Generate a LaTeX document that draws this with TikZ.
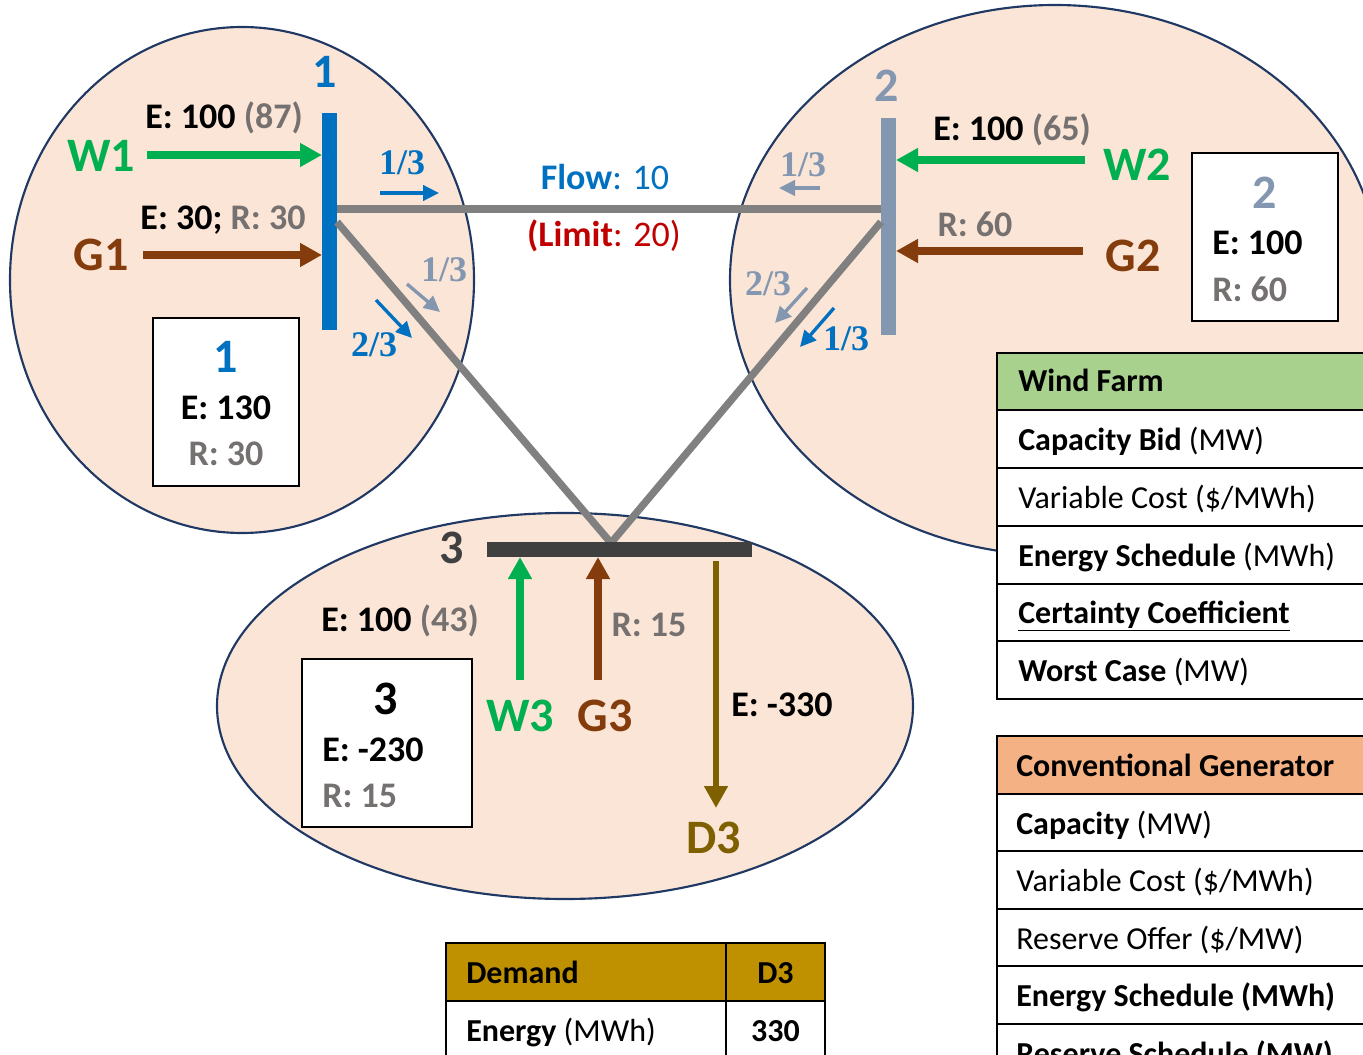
\documentclass[tikz,border=0pt]{standalone}
\usepackage{fontspec}
\setmainfont{Carlito}
\newfontfamily\fracfont{Liberation Serif}
\usetikzlibrary{arrows.meta}
\definecolor{ellfill}{HTML}{FBE5D6}
\definecolor{ellline}{HTML}{203864}
\definecolor{busblue}{HTML}{0070C0}
\definecolor{busgray}{HTML}{8497B0}
\definecolor{busdark}{HTML}{404040}
\definecolor{linegray}{HTML}{808080}
\definecolor{wgreen}{HTML}{00B050}
\definecolor{gbrown}{HTML}{843C0C}
\definecolor{dgold}{HTML}{7F6000}
\definecolor{txtgray}{HTML}{767171}
\definecolor{limred}{HTML}{C00000}
\definecolor{hdgreen}{HTML}{A9D18E}
\definecolor{hdorange}{HTML}{F4B183}
\definecolor{hdgold}{HTML}{BF9000}
\newcommand\fsBig{\fontsize{36}{40}\selectfont}
\newcommand\fsMid{\fontsize{27}{31}\selectfont}
\newcommand\fsTab{\fontsize{24}{27}\selectfont}
\newcommand\fsFrac{\fontsize{27}{30}\selectfont}
\tikzset{
 ell/.style={fill=ellfill, draw=ellline, line width=1.6pt},
 tline/.style={draw=linegray, line width=5.5pt},
 busbar/.style={draw=none, inner sep=0pt, outer sep=0pt},
 bigarrow/.style={line width=6pt, -{Triangle[length=16.5pt,width=17pt]}},
 darrow/.style={line width=4.5pt, -{Triangle[length=16.5pt,width=17pt]}},
 smallarrow/.style={line width=2.5pt, -{Triangle[length=12pt,width=11.5pt]}},
 lbl/.style={inner sep=0pt, font=\fsMid\bfseries},
 biglbl/.style={inner sep=0pt, font=\fsBig\bfseries},
 fraclbl/.style={inner sep=0pt, font=\fsFrac\fracfont\bfseries},
 infobox/.style={draw=black, fill=white, line width=1.6pt},
 tabrow/.style={draw=black, line width=2pt},
 tabtxt/.style={inner sep=0pt, anchor=base west, font=\fsTab},
}
\begin{document}
\begin{tikzpicture}[x=0.75pt,y=-0.75pt]
\useasboundingbox (0,0) rectangle (1363,1055);
\clip (0,0) rectangle (1363,1055);
% zones
\draw[ell] (242,280) ellipse [x radius=174pt, y radius=189.75pt];
\draw[ell] (1055,280) ellipse [x radius=243.75pt, y radius=206.25pt];
\draw[ell] (565,706) ellipse [x radius=261pt, y radius=144.75pt];
% buses
\node[busbar, fill=busblue, minimum width=11.25pt, minimum height=162.75pt] (bus1) at (329.5,221.5) {};
\node[busbar, fill=busgray, minimum width=11.25pt, minimum height=162.75pt] (bus2) at (888.5,226.5) {};
% lines
\coordinate (l12a) at (337,209);
\coordinate (l12b) at (881,209);
\coordinate (l13a) at (337,222);
\coordinate (l23a) at (881,222);
\coordinate (b3top) at (611,543);
\draw[tline] (l12a) -- (l12b);
\draw[tline] (l13a) -- (b3top);
\draw[tline] (l23a) -- (b3top);
\node[busbar, fill=busdark, minimum width=198.75pt, minimum height=11.25pt] (bus3) at (619.5,549.5) {};
% bus labels
\node[biglbl, text=busblue] (n1) at (325,72) {1};
\node[biglbl, text=busgray] (n2) at (887,86) {2};
\node[biglbl, text=busdark] (n3) at (452,548) {3};
% zone 1 units
\coordinate (w1s) at (147,155);
\coordinate (g1s) at (143,255);
\draw[bigarrow, wgreen] (w1s) -- (bus1.west |- w1s);
\draw[bigarrow, gbrown] (g1s) -- (bus1.west |- g1s);
\node[biglbl, text=wgreen] (w1) at (101,156) {W1};
\node[biglbl, text=gbrown] (g1) at (101,255) {G1};
\node[lbl] (w1e) at (224,118) {E: 100 \textcolor{txtgray}{(87)}};
\node[lbl] (g1e) at (223,220) {E: 30; \textcolor{txtgray}{R: 30}};
\draw[infobox] (153,318) rectangle (299,486);
\node[biglbl, text=busblue] (b1n) at (226,357) {1};
\node[lbl] (b1e) at (226,408) {E: 130};
\node[lbl, text=txtgray] (b1r) at (226,454) {R: 30};
% zone 1 flow shares
\node[fraclbl, text=busblue] (f1a) at (402,163) {1/3};
\coordinate (f1as) at (380,193); \coordinate (f1ae) at (439,193);
\draw[smallarrow, busblue] (f1as) -- (f1ae);
\node[fraclbl, text=busgray] (f1b) at (444,270) {1/3};
\coordinate (f1bs) at (407,284); \coordinate (f1be) at (440,312);
\draw[smallarrow, busgray] (f1bs) -- (f1be);
\node[fraclbl, text=busblue] (f1c) at (374,345) {2/3};
\coordinate (f1cs) at (376,300); \coordinate (f1ce) at (412,338);
\draw[smallarrow, busblue] (f1cs) -- (f1ce);
% line flow label
\node[inner sep=0pt, font=\fsMid, text=busblue] (flow) at (605,177) {\textbf{Flow}: 10};
\node[inner sep=0pt, font=\fsMid, text=limred] (limit) at (604,236) {\textbf{(Limit}: 20)};
% zone 2 flow shares
\node[fraclbl, text=busgray] (f2a) at (803,165) {1/3};
\coordinate (f2as) at (820,188); \coordinate (f2ae) at (779,188);
\draw[smallarrow, busgray] (f2as) -- (f2ae);
\node[fraclbl, text=busgray] (f2b) at (768,284) {2/3};
\coordinate (f2bs) at (807,288); \coordinate (f2be) at (775,323);
\draw[smallarrow, busgray] (f2bs) -- (f2be);
\node[fraclbl, text=busblue] (f2c) at (846,339) {1/3};
\coordinate (f2cs) at (834,308); \coordinate (f2ce) at (800,347);
\draw[smallarrow, busblue] (f2cs) -- (f2ce);
% zone 2 units
\coordinate (w2s) at (1085,160);
\coordinate (g2s) at (1083,251);
\draw[bigarrow, wgreen] (w2s) -- (bus2.east |- w2s);
\draw[bigarrow, gbrown] (g2s) -- (bus2.east |- g2s);
\node[biglbl, text=wgreen] (w2) at (1137,165) {W2};
\node[biglbl, text=gbrown] (g2) at (1133,256) {G2};
\node[lbl] (w2e) at (1012,130) {E: 100 \textcolor{txtgray}{(65)}};
\node[lbl, text=txtgray] (g2r) at (975,224) {R: 60};
\draw[infobox] (1192,153) rectangle (1338,321);
\node[biglbl, text=busgray] (b2n) at (1265,193) {2};
\node[lbl, anchor=west] (b2e) at (1212,243) {E: 100};
\node[lbl, anchor=west, text=txtgray] (b2r) at (1212,289) {R: 60};
% zone 3 units
\coordinate (w3s) at (520,680);
\coordinate (g3s) at (598,680);
\draw[bigarrow, wgreen] (w3s) -- (w3s |- bus3.south);
\draw[bigarrow, gbrown] (g3s) -- (g3s |- bus3.south);
\coordinate (d3s) at (716,561);
\coordinate (d3e) at (716,808);
\draw[darrow, dgold] (d3s) -- (d3e);
\node[biglbl, text=wgreen] (w3) at (520,716) {W3};
\node[biglbl, text=gbrown] (g3) at (605,716) {G3};
\node[biglbl, text=dgold] (d3) at (714,838) {D3};
\node[lbl] (w3e) at (400,621) {E: 100 \textcolor{txtgray}{(43)}};
\node[lbl, text=txtgray] (g3r) at (649,625) {R: 15};
\node[lbl] (d3e2) at (782,705) {E: -330};
\draw[infobox] (302,659) rectangle (472,827);
\node[biglbl] (b3n) at (386,699) {3};
\node[lbl, anchor=west] (b3e) at (322,750) {E: -230};
\node[lbl, anchor=west, text=txtgray] (b3r) at (322,796) {R: 15};
% wind farm table
\draw[tabrow, fill=hdgreen] (997,353) rectangle (1375,410);
\draw[tabrow, fill=white] (997,410) rectangle (1375,468);
\draw[tabrow, fill=white] (997,468) rectangle (1375,526);
\draw[tabrow, fill=white] (997,526) rectangle (1375,584);
\draw[tabrow, fill=white] (997,584) rectangle (1375,641);
\draw[tabrow, fill=white] (997,641) rectangle (1375,699);
\node[tabtxt] (wf0) at (1018,392) {\textbf{Wind Farm}};
\node[tabtxt] (wf1) at (1018,450) {\textbf{Capacity Bid} (MW)};
\node[tabtxt] (wf2) at (1018,508) {Variable Cost (\$/MWh)};
\node[tabtxt] (wf3) at (1018,566) {\textbf{Energy Schedule} (MWh)};
\node[tabtxt] (wf4) at (1018,623) {\textbf{\underline{Certainty Coefficient}}};
\node[tabtxt] (wf5) at (1018,681) {\textbf{Worst Case} (MW)};
% conventional generator table
\draw[tabrow, fill=hdorange] (997,736) rectangle (1375,794);
\draw[tabrow, fill=white] (997,794) rectangle (1375,851);
\draw[tabrow, fill=white] (997,851) rectangle (1375,909);
\draw[tabrow, fill=white] (997,909) rectangle (1375,966);
\draw[tabrow, fill=white] (997,966) rectangle (1375,1024);
\draw[tabrow, fill=white] (997,1024) rectangle (1375,1082);
\node[tabtxt] (cg0) at (1016,776) {\textbf{Conventional Generator}};
\node[tabtxt] (cg1) at (1016,834) {\textbf{Capacity} (MW)};
\node[tabtxt] (cg2) at (1016,891) {Variable Cost (\$/MWh)};
\node[tabtxt] (cg3) at (1016,949) {Reserve Offer (\$/MW)};
\node[tabtxt] (cg4) at (1016,1006) {\textbf{Energy Schedule (MWh)}};
\node[tabtxt] (cg5) at (1016,1064) {\textbf{Reserve Schedule (MW)}};
% demand table
\draw[tabrow, fill=hdgold] (446,943) rectangle (726,1001);
\draw[tabrow, fill=hdgold] (726,943) rectangle (825,1001);
\draw[tabrow, fill=white] (446,1001) rectangle (726,1070);
\draw[tabrow, fill=white] (726,1001) rectangle (825,1070);
\node[tabtxt] (dm0) at (466,983) {\textbf{Demand}};
\node[tabtxt, anchor=base] (dm1) at (775.5,983) {\textbf{D3}};
\node[tabtxt] (dm2) at (466,1041) {\textbf{Energy} (MWh)};
\node[tabtxt, anchor=base] (dm3) at (775.5,1041) {\textbf{330}};
\end{tikzpicture}
\end{document}
